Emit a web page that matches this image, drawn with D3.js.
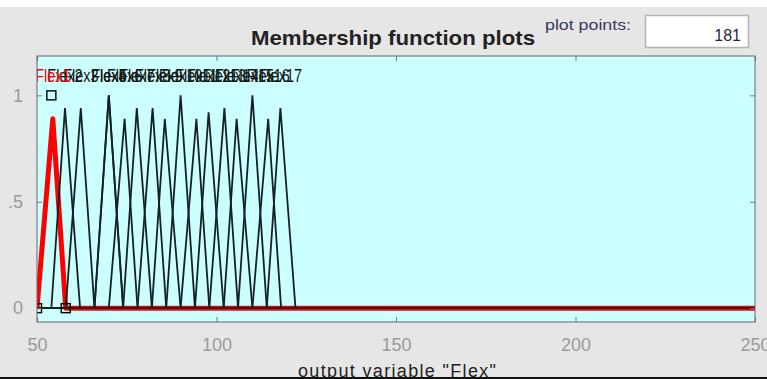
<!DOCTYPE html>
<html>
<head>
<meta charset="utf-8">
<script src="https://cdn.jsdelivr.net/npm/d3@7"></script>
<style>
  body { margin: 0; background: #e6e6e6; overflow: hidden; }
  svg { display: block; font-family: "Liberation Sans", Arial, sans-serif; }
</style>
</head>
<body>
<svg id="chart" width="767" height="379"></svg>
<script>
// membership functions of output "Flex" (triangles: left foot, top, right foot)
const mfNames = ["Flex1", "Flex2", "Flex3", "Flex4", "Flex5", "Flex6", "Flex7", "Flex8", "Flex9",
  "Flex10", "Flex11", "Flex12", "Flex13", "Flex14", "Flex15", "Flex16", "Flex17"];
const mfLeft   = [50, 54, 58, 66, 66, 70, 74, 78, 82, 86, 90, 94, 98, 102, 106, 110, 114];
const mfCenter = [54, 58, 62, 70, 70, 74, 78, 82, 86, 90, 94, 98, 102, 106, 110, 114, 118];
const mfRight  = [58, 62, 66, 74, 74, 78, 82, 86, 90, 94, 98, 102, 106, 110, 114, 118, 122];
// where the plotted (181 point) curve actually peaks, and how high
const mfPeakX  = [54.4, 57.8, 62.2, 70, 70, 74.4, 77.8, 82.2, 85.6, 90, 94.4, 97.8, 102.2, 105.6, 110, 114.4, 117.8];
const mfPeakY  = [0.89, 0.94, 0.94, 1, 1, 0.89, 0.94, 0.94, 0.89, 1, 0.89, 0.92, 0.94, 0.89, 1, 0.89, 0.94];
const selected = 0;

const xTicks = [50, 100, 150, 200, 250];
const yTicks = [0, 0.5, 1];
const yTickLabels = ["0", ".5", "1"];
const xRange = [50, 250];
const plotPoints = 181;

const W = 767, H = 379;
const box = { left: 37, right: 755, top: 56, bottom: 322 };

const svg = d3.select("#chart");

// white strip on top, grey figure background
svg.append("rect").attr("width", W).attr("height", H).attr("fill", "#e6e6e6");
svg.append("rect").attr("width", W).attr("height", 7).attr("fill", "#ffffff");

const x = d3.scaleLinear().domain(xRange).range([box.left, box.right]);
const y = d3.scaleLinear().domain([-0.065, 1.185]).range([box.bottom, box.top]);

// axes area
svg.append("rect")
  .attr("x", box.left).attr("y", box.top)
  .attr("width", box.right - box.left).attr("height", box.bottom - box.top)
  .attr("fill", "#ccffff");

svg.append("clipPath").attr("id", "clip")
  .append("rect")
  .attr("x", box.left).attr("y", box.top)
  .attr("width", box.right - box.left).attr("height", box.bottom - box.top);

const plot = svg.append("g").attr("clip-path", "url(#clip)");
const line = d3.line().x(d => x(d[0])).y(d => y(d[1]));
const mfPoints = i => [[xRange[0], 0], [mfLeft[i], 0], [mfPeakX[i], mfPeakY[i]], [mfRight[i], 0], [xRange[1], 0]];

// selected one first, thick red
plot.append("path")
  .attr("d", line(mfPoints(selected)))
  .attr("fill", "none").attr("stroke", "#ff0000").attr("stroke-width", 5)
  .attr("stroke-linejoin", "round");

plot.selectAll("path.mf")
  .data(d3.range(mfNames.length).filter(i => i !== selected))
  .enter().append("path")
  .attr("class", "mf")
  .attr("d", i => line(mfPoints(i)))
  .attr("fill", "none").attr("stroke", "#162222").attr("stroke-width", 1.8);

// edit handles of the selected function
const handles = [[mfLeft[selected], 0], [mfCenter[selected], 1], [mfRight[selected], 0]];
plot.selectAll("rect.handle")
  .data(handles)
  .enter().append("rect")
  .attr("class", "handle")
  .attr("x", d => x(d[0]) - 4.5).attr("y", d => y(d[1]) - 4.5)
  .attr("width", 9).attr("height", 9)
  .attr("fill", "none").attr("stroke", "#000").attr("stroke-width", 1.4);

// labels above each curve
const labelOrder = d3.range(mfNames.length).filter(i => i !== selected).concat([selected]);
plot.selectAll("text.mflabel")
  .data(labelOrder)
  .enter().append("text")
  .attr("class", "mflabel")
  .attr("transform", i => `translate(${x(mfPeakX[i])},${y(1.065)}) scale(0.76,1)`)
  .attr("text-anchor", "middle")
  .attr("font-size", 19)
  .attr("fill", i => i === selected ? "#ff0000" : "#151515")
  .text(i => mfNames[i]);

// ticks pointing inwards, grey labels outside
const axisColor = g => {
  g.select(".domain").remove();
  g.selectAll(".tick line").attr("stroke", "#7a7a7a");
  g.selectAll(".tick text").attr("fill", "#9a9a9a").attr("font-size", 18)
    .attr("font-family", "Liberation Sans, Arial, sans-serif");
};

svg.append("g")
  .attr("transform", `translate(0,${box.bottom})`)
  .call(d3.axisBottom(x).tickValues(xTicks).tickSize(-5).tickPadding(16).tickFormat(d3.format("d")))
  .call(axisColor);
svg.append("g")
  .attr("transform", `translate(0,${box.top})`)
  .call(d3.axisTop(x).tickValues(xTicks).tickSize(-5).tickFormat(""))
  .call(axisColor);
svg.append("g")
  .attr("transform", `translate(${box.left},0)`)
  .call(d3.axisLeft(y).tickValues(yTicks).tickSize(-5).tickPadding(14).tickFormat((d, i) => yTickLabels[i]))
  .call(axisColor);
svg.append("g")
  .attr("transform", `translate(${box.right},0)`)
  .call(d3.axisRight(y).tickValues(yTicks).tickSize(-5).tickFormat(""))
  .call(axisColor);

svg.append("rect")
  .attr("x", box.left).attr("y", box.top)
  .attr("width", box.right - box.left).attr("height", box.bottom - box.top)
  .attr("fill", "none").attr("stroke", "#666").attr("stroke-width", 1);

// title and the plot points box
svg.append("text")
  .attr("x", 393).attr("y", 45)
  .attr("text-anchor", "middle")
  .attr("font-size", 21).attr("font-weight", "bold").attr("fill", "#222")
  .attr("textLength", 284).attr("lengthAdjust", "spacingAndGlyphs")
  .text("Membership function plots");

svg.append("text")
  .attr("x", 545).attr("y", 30)
  .attr("font-size", 14).attr("fill", "#3b3b5c")
  .attr("textLength", 86).attr("lengthAdjust", "spacingAndGlyphs")
  .text("plot points:");

svg.append("rect")
  .attr("x", 645.5).attr("y", 15.5).attr("width", 103).attr("height", 32)
  .attr("fill", "#ffffff").attr("stroke", "#b4b4b4").attr("stroke-width", 1.5);

svg.append("text")
  .attr("x", 741).attr("y", 41)
  .attr("text-anchor", "end")
  .attr("font-size", 16).attr("fill", "#2a1f3d")
  .text(plotPoints);

svg.append("text")
  .attr("x", 397).attr("y", 377)
  .attr("text-anchor", "middle")
  .attr("font-size", 18).attr("fill", "#222")
  .attr("textLength", 198).attr("lengthAdjust", "spacing")
  .text('output variable "Flex"');

svg.append("rect").attr("x", 0).attr("y", 377).attr("width", W).attr("height", 2).attr("fill", "#111");
</script>
</body>
</html>
